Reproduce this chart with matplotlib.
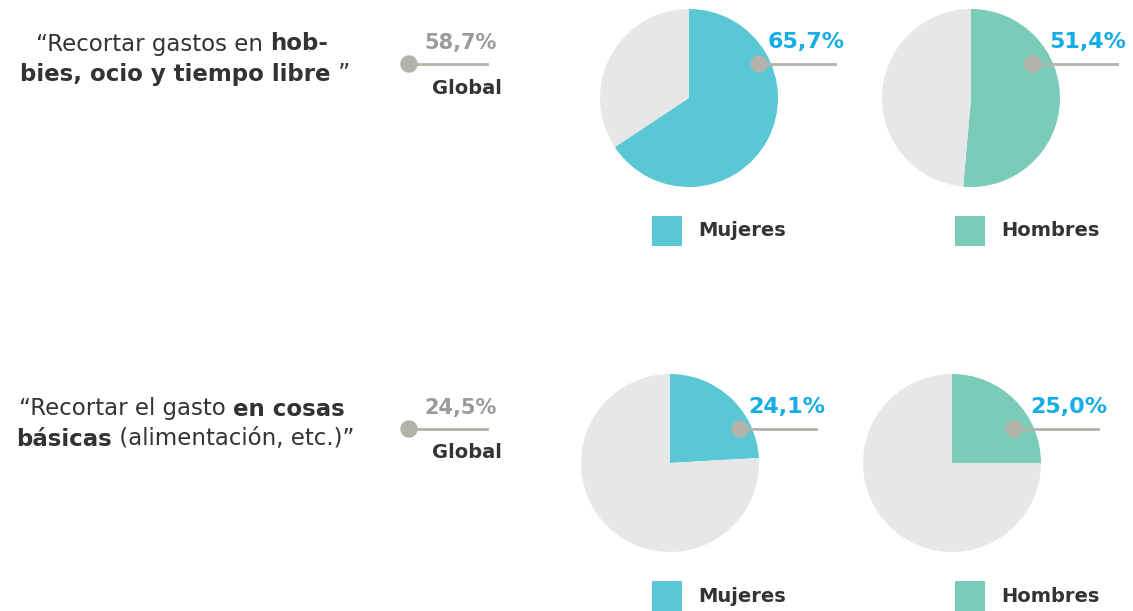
import matplotlib.pyplot as plt
from matplotlib.patches import Rectangle, Circle

plt.rcParams["font.family"] = ["DejaVu Sans"]

# data
questions = [
    [[("\u201cRecortar gastos en ", "normal"), ("hob-", "bold")],
     [("bies, ocio y tiempo libre", "bold"), (" \u201d", "normal")]],
    [[("\u201cRecortar el gasto ", "normal"), ("en cosas", "bold")],
     [("b\u00e1sicas", "bold"), (" (alimentaci\u00f3n, etc.)\u201d", "normal")]],
]
global_vals = [58.7, 24.5]
mujeres_vals = [65.7, 24.1]
hombres_vals = [51.4, 25.0]
groups = ["Mujeres", "Hombres"]

# colours
c_muj = "#5AC7D5"
c_hom = "#7ACBB8"
c_rest = "#E6E7E9"
c_label = "#16ACE6"
c_dot = "#B4B3AA"
c_dark = "#333336"
c_grey = "#9B9B9B"

W, H = 1133, 611
fig = plt.figure(figsize=(W / 100, H / 100), dpi=100)
ax = fig.add_axes([0, 0, 1, 1])


def Y(y):
    return H - y


def fmt(v):
    return f"{v:.1f}%".replace(".", ",")


def rich_line(x_center, y, runs, size):
    # draw a line of mixed regular/bold text, centred on x_center
    renderer = fig.canvas.get_renderer()
    texts = []
    for s, w in runs:
        t = ax.text(0, Y(y), s, fontsize=size, fontweight=w, color=c_dark,
                    ha="left", va="center")
        texts.append(t)
    widths = [t.get_window_extent(renderer).width for t in texts]
    x = x_center - sum(widths) / 2
    for t, wd in zip(texts, widths):
        t.set_x(x)
        x += wd


row_dy = [0, 365]
pie_dx = [0, -19]
pie_cx = [689, 971]
dot_dx = [70, 62]
radius = 89

for r in range(2):
    dy = row_dy[r]
    # question text
    rich_line(182, 44 + dy, questions[r][0], 16.5)
    rich_line(185, 74 + dy, questions[r][1], 16.5)

    # global value
    ax.text(461, Y(43 + dy), fmt(global_vals[r]), fontsize=15, fontweight="bold",
            color=c_grey, ha="center", va="center")
    ax.plot([409, 487], [Y(64 + dy), Y(64 + dy)], color=c_dot, lw=2, zorder=3)
    ax.add_patch(Circle((409, Y(64 + dy)), 8, color=c_dot, zorder=4))
    ax.text(467, Y(88 + dy), "Global", fontsize=14, fontweight="bold",
            color=c_dark, ha="center", va="center")

    vals = [mujeres_vals[r], hombres_vals[r]]
    cols = [c_muj, c_hom]
    for g in range(2):
        cx = pie_cx[g] + pie_dx[r]
        cy = Y(98 + dy)
        v = vals[g]
        ax.pie([v, 100 - v], colors=[cols[g], c_rest], startangle=90,
               counterclock=False, radius=radius, center=(cx, cy),
               wedgeprops=dict(linewidth=0))
        ax.plot([cx + dot_dx[g], cx + 146], [cy + 34, cy + 34], color=c_dot,
                lw=2, zorder=3)
        ax.add_patch(Circle((cx + dot_dx[g], cy + 34), 8, color=c_dot, zorder=4))
        ax.text(cx + 117, cy + 56, fmt(v), fontsize=16, fontweight="bold",
                color=c_label, ha="center", va="center")

    # legend
    for g, lx in enumerate([652, 955]):
        ax.add_patch(Rectangle((lx, Y(246 + dy)), 30, 30, color=cols[g], lw=0))
        ax.text(lx + 46, Y(231 + dy), groups[g], fontsize=14, fontweight="bold",
                color=c_dark, ha="left", va="center")

ax.set_xlim(0, W)
ax.set_ylim(0, H)
ax.set_aspect("equal")
ax.axis("off")

fig.savefig("out.png", dpi=100)
